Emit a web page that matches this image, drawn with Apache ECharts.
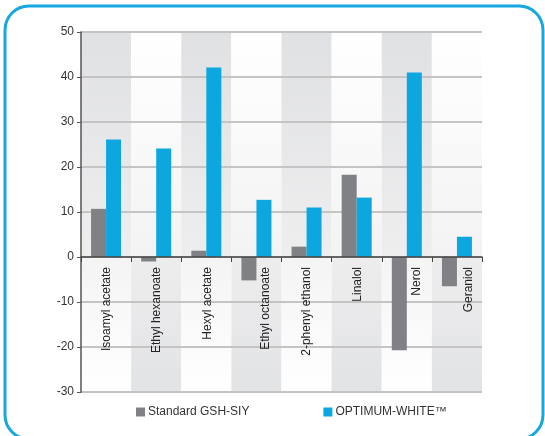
<!DOCTYPE html>
<html>
<head>
<meta charset="utf-8">
<script src="https://cdn.jsdelivr.net/npm/echarts@6/dist/echarts.min.js"></script>
<style>
  html, body { margin: 0; padding: 0; background: #ffffff; }
  #chart { width: 545px; height: 436px; }
</style>
</head>
<body>
<div id="chart"></div>
<script>
const categories = ['Isoamyl acetate', 'Ethyl hexanoate', 'Hexyl acetate', 'Ethyl octanoate', '2-phenyl ethanol', 'Linalol', 'Nerol', 'Geraniol'];
const standardGSH = [10.7, -1.0, 1.4, -5.2, 2.3, 18.3, -20.7, -6.5];
const optimumWhite = [26.1, 24.1, 42.1, 12.7, 11.0, 13.2, 41.0, 4.5];
const seriesNames = ['Standard GSH-SIY', 'OPTIMUM-WHITE™'];
const yMin = -30, yMax = 50, yStep = 10;
const labelShift = [1, 0, 1, 9, 0, 1, 10, 12];

const gridTop = 32, gridBottom = 44, chartH = 436;
const plotH = chartH - gridTop - gridBottom;
const zeroOffset = -(0 - yMin) / (yMax - yMin) * plotH;
const font = 'Liberation Sans, Arial, Helvetica, sans-serif';

function grad(top, bottom) {
  return { type: 'linear', x: 0, y: 0, x2: 0, y2: 1,
    colorStops: [{ offset: 0, color: top }, { offset: 1, color: bottom }] };
}
const upperStripes = categories.map((c, i) => ({
  value: yMax,
  itemStyle: { color: i % 2 === 0 ? grad('#e0e1e3', '#eeeeef') : grad('#ffffff', '#f3f3f3') }
}));
const lowerStripes = categories.map((c, i) => ({
  value: yMin,
  itemStyle: { color: i % 2 === 1 ? grad('#ededee', '#e2e3e5') : grad('#f4f4f4', '#ffffff') }
}));
const labelRich = {};
labelShift.forEach((s, i) => {
  labelRich['s' + i] = { padding: [2 * s, 0, 0, 0], fontSize: 12, color: '#222', fontFamily: font };
});

const chart = echarts.init(document.getElementById('chart'), null, { renderer: 'canvas' });
chart.setOption({
  animation: false,
  textStyle: { fontFamily: font },
  graphic: [{
    type: 'rect', z: -10,
    shape: { x: 5, y: 6, width: 538, height: 433, r: 24 },
    style: { fill: 'none', stroke: '#16a8e0', lineWidth: 3 }
  }],
  grid: { left: 81, right: 63, top: gridTop, bottom: gridBottom, containLabel: false, outerBoundsMode: 'none' },
  legend: {
    left: 136, top: 406, padding: 0, itemWidth: 9, itemHeight: 9, itemGap: 74, icon: 'rect',
    data: seriesNames,
    textStyle: { fontSize: 12, color: '#333', fontFamily: font, padding: [0, 0, 0, -2] }
  },
  xAxis: [{
    type: 'category',
    position: 'bottom',
    offset: zeroOffset,
    z: 3,
    data: categories,
    axisLine: { onZero: false, lineStyle: { color: '#444', width: 1.5 } },
    axisTick: { show: true, length: 5, alignWithLabel: false, lineStyle: { color: '#444', width: 1 } },
    axisLabel: {
      rotate: 90, interval: 0, margin: 10, fontSize: 12, color: '#222', fontFamily: font, hideOverlap: false,
      formatter: (v, i) => '{s' + i + '|' + v + '}',
      rich: labelRich
    },
    splitLine: { show: false }
  }, {
    type: 'category', data: categories, show: false, gridIndex: 0
  }],
  yAxis: {
    type: 'value', min: yMin, max: yMax, interval: yStep,
    axisLine: { show: true, lineStyle: { color: '#555', width: 1.5 } },
    axisTick: { show: true, length: 4, lineStyle: { color: '#555' } },
    axisLabel: { fontSize: 12, color: '#333', margin: 7, fontFamily: font },
    splitLine: { show: true, lineStyle: { color: '#c4c4c4', width: 2 } }
  },
  series: [
    { type: 'bar', xAxisIndex: 1, data: upperStripes, barWidth: '100%', barGap: '-100%', z: -1, silent: true, legendHoverLink: false },
    { type: 'bar', xAxisIndex: 1, data: lowerStripes, barWidth: '100%', barGap: '-100%', z: -1, silent: true, legendHoverLink: false },
    { name: seriesNames[0], type: 'bar', xAxisIndex: 0, data: standardGSH, barWidth: 15, barGap: '0%', itemStyle: { color: '#808184' } },
    { name: seriesNames[1], type: 'bar', xAxisIndex: 0, data: optimumWhite, barWidth: 15, barGap: '0%', itemStyle: { color: '#0ca7df' } }
  ]
});
</script>
</body>
</html>
